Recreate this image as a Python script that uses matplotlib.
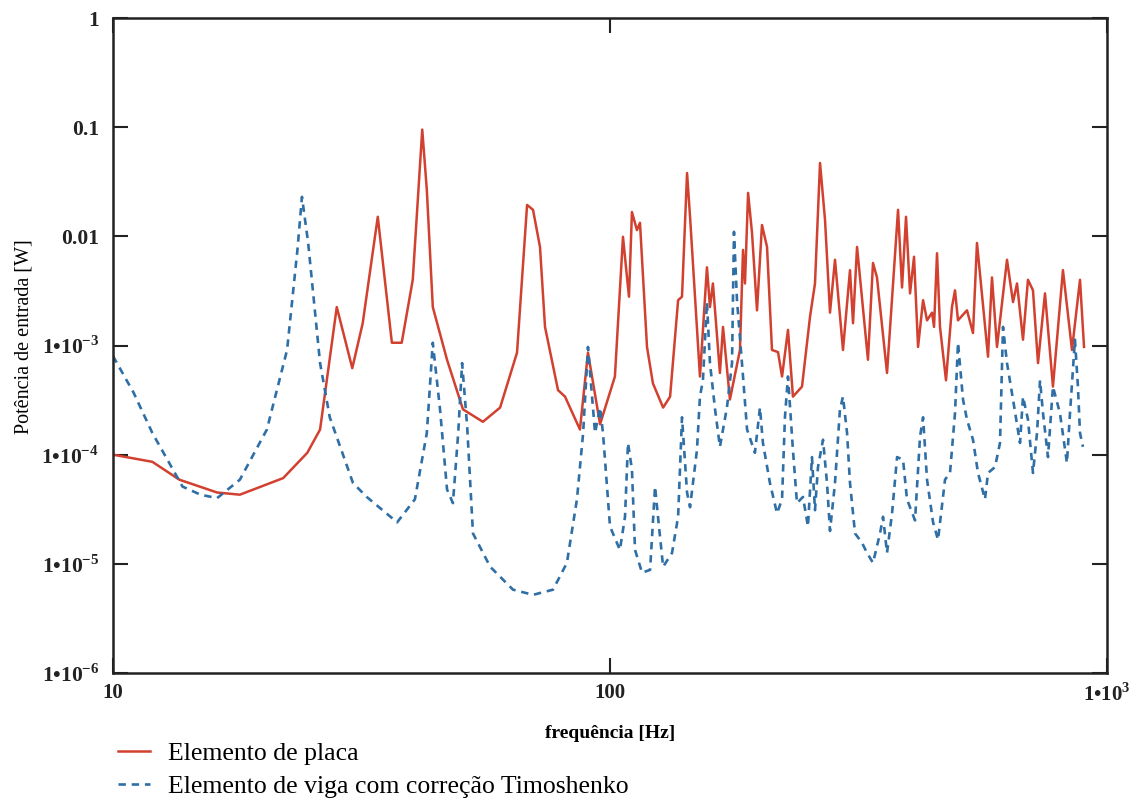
import matplotlib
matplotlib.use("Agg")
import matplotlib.pyplot as plt
from matplotlib.lines import Line2D
from matplotlib.ticker import FixedLocator, FixedFormatter, NullLocator

plt.rcParams['font.family'] = ['Liberation Serif', 'DejaVu Serif']
plt.rcParams['mathtext.fontset'] = 'custom'
plt.rcParams['mathtext.rm'] = 'Liberation Serif:bold'
plt.rcParams['mathtext.bf'] = 'Liberation Serif:bold'

# Plate element model: input power [W] vs frequency [Hz]
placa_freq = [10.0, 12.0, 13.6, 16.2, 18.0, 22.0, 24.6, 26.1, 28.2, 30.3,
              31.8, 34.1, 36.4, 38.1, 40.1, 41.9, 42.8, 44.0, 47.0, 50.6,
              55.5, 60.1, 65.0, 68.1, 70.0, 72.3, 74.0, 78.6, 81.2, 87.0,
              90.3, 95.5, 102.3, 106.2, 108.2, 109.2, 110.7, 113.3, 114.9, 118.7,
              122.0, 127.9, 132.1, 137.1, 139.6, 142.9, 144.9, 151.7, 156.7, 158.9,
              161.1, 166.4, 168.8, 174.3, 182.6, 185.2, 186.9, 189.6, 193.1, 197.6,
              202.2, 207.0, 211.8, 217.8, 221.9, 228.1, 233.4, 243.4, 252.6, 258.5,
              264.6, 270.8, 277.1, 283.6, 294.3, 304.0, 308.3, 314.1, 330.4, 338.2,
              344.5, 360.9, 379.8, 386.9, 394.1, 401.5, 409.0, 416.7, 426.5, 434.4,
              444.6, 448.7, 455.0, 461.3, 474.3, 487.6, 494.5, 501.4, 522.7, 537.5,
              547.5, 576.2, 586.9, 600.7, 629.2, 647.0, 659.1, 677.6, 693.4, 709.7,
              726.4, 750.3, 778.5, 815.4, 850.2, 882.4, 899.0]
placa_pot = [1.0e-4, 8.6e-5, 5.9e-5, 4.5e-5, 4.3e-5, 6.1e-5, 1.04e-4, 1.7e-4, 2.25e-3, 6.2e-4,
             1.6e-3, 1.51e-2, 1.06e-3, 1.06e-3, 4.0e-3, 9.5e-2, 2.66e-2, 2.25e-3, 7.4e-4, 2.6e-4,
             2.0e-4, 2.7e-4, 8.6e-4, 1.94e-2, 1.75e-2, 8.0e-3, 1.48e-3, 3.9e-4, 3.4e-4, 1.7e-4,
             8.6e-4, 1.9e-4, 5.2e-4, 9.9e-3, 4.2e-3, 2.8e-3, 1.67e-2, 1.14e-2, 1.33e-2, 9.7e-4,
             4.5e-4, 2.7e-4, 3.4e-4, 2.6e-3, 2.8e-3, 3.8e-2, 1.51e-2, 5.2e-4, 5.2e-3, 2.25e-3,
             3.7e-3, 5.6e-4, 1.48e-3, 3.2e-4, 9.1e-4, 7.5e-3, 3.7e-3, 2.5e-2, 1.07e-2, 2.1e-3,
             1.27e-2, 8.0e-3, 9.1e-4, 8.7e-4, 5.2e-4, 1.39e-3, 3.4e-4, 4.2e-4, 1.83e-3, 3.7e-3,
             4.7e-2, 1.41e-2, 2.0e-3, 6.1e-3, 9.1e-4, 4.9e-3, 1.6e-3, 8.0e-3, 7.4e-4, 5.7e-3,
             4.2e-3, 5.6e-4, 1.75e-2, 3.4e-3, 1.51e-2, 3.0e-3, 6.5e-3, 9.7e-4, 2.6e-3, 1.7e-3,
             2.0e-3, 1.48e-3, 7.0e-3, 1.48e-3, 4.8e-4, 2.25e-3, 3.2e-3, 1.7e-3, 2.1e-3, 1.3e-3,
             8.7e-3, 7.9e-4, 4.2e-3, 9.7e-4, 6.1e-3, 2.5e-3, 3.7e-3, 1.13e-3, 4.0e-3, 3.2e-3,
             6.9e-4, 3.0e-3, 4.2e-4, 4.9e-3, 9.1e-4, 4.0e-3, 9.7e-4]

# Beam element with Timoshenko correction
viga_freq = [10.0, 11.0, 12.0, 13.8, 15.0, 16.2, 18.0, 20.4, 22.4, 23.5,
             24.0, 24.7, 26.1, 27.3, 30.4, 32.4, 37.3, 40.5, 42.8, 44.0,
             45.5, 47.0, 48.3, 49.5, 50.4, 51.6, 53.0, 57.4, 63.8, 70.0,
             76.8, 81.9, 85.8, 88.3, 90.3, 93.3, 95.5, 96.8, 100.0, 104.7,
             107.2, 108.7, 110.7, 112.3, 116.0, 120.4, 123.2, 124.9, 127.9, 133.3,
             137.1, 139.6, 142.9, 144.9, 149.6, 151.7, 153.8, 156.7, 158.9, 162.7,
             166.4, 171.9, 176.0, 177.6, 180.1, 185.2, 188.7, 195.7, 200.3, 203.1,
             209.8, 216.8, 221.9, 224.9, 228.1, 233.4, 237.8, 244.5, 250.2, 254.9,
             258.5, 262.1, 268.3, 273.3, 277.1, 283.6, 290.2, 294.3, 299.9, 304.0,
             311.2, 321.4, 328.9, 338.2, 349.4, 354.3, 360.9, 369.4, 378.1, 388.7,
             395.9, 410.9, 420.5, 426.5, 434.4, 446.7, 457.1, 472.1, 483.2, 494.5,
             501.4, 513.2, 522.7, 537.5, 550.1, 568.2, 576.2, 595.2, 609.1, 617.7,
             629.2, 647.0, 668.3, 677.6, 693.4, 709.7, 723.1, 733.2, 743.4, 760.8,
             778.5, 804.1, 830.6, 842.4, 862.0, 874.0, 882.4, 894.5]
viga_pot = [8.0e-4, 3.7e-4, 1.58e-4, 5.1e-5, 4.3e-5, 4.0e-5, 5.9e-5, 1.7e-4, 9.1e-4, 7.5e-3,
            2.3e-2, 8.7e-3, 6.9e-4, 2.2e-4, 5.5e-5, 4.1e-5, 2.4e-5, 3.9e-5, 1.58e-4, 1.06e-3,
            2.6e-4, 4.8e-5, 3.6e-5, 1.58e-4, 6.9e-4, 1.8e-4, 1.9e-5, 9.4e-6, 5.8e-6, 5.2e-6,
            5.8e-6, 1.02e-5, 3.9e-5, 1.58e-4, 9.7e-4, 1.58e-4, 2.7e-4, 1.58e-4, 2.2e-5, 1.34e-5,
            2.7e-5, 1.28e-4, 7.3e-5, 1.34e-5, 8.3e-6, 8.8e-6, 5.1e-5, 2.7e-5, 9.4e-6, 1.26e-5,
            2.7e-5, 2.2e-4, 4.5e-5, 3.3e-5, 1.1e-4, 3.4e-4, 4.8e-4, 2.5e-3, 6.9e-4, 2.6e-4,
            1.18e-4, 2.7e-4, 6.9e-4, 1.1e-2, 2.6e-3, 5.2e-4, 1.7e-4, 1.04e-4, 2.7e-4, 1.28e-4,
            5.5e-5, 2.9e-5, 3.9e-5, 2.2e-4, 5.2e-4, 1.1e-4, 3.6e-5, 4.1e-5, 2.2e-5, 9.5e-5,
            3.1e-5, 7.7e-5, 1.37e-4, 5.5e-5, 2.0e-5, 5.5e-5, 2.6e-4, 3.4e-4, 1.58e-4, 5.5e-5,
            1.9e-5, 1.56e-5, 1.26e-5, 1.02e-5, 1.9e-5, 2.7e-5, 1.26e-5, 2.9e-5, 9.5e-5, 9.0e-5,
            3.9e-5, 2.5e-5, 1.46e-4, 2.2e-4, 5.9e-5, 2.4e-5, 1.66e-5, 5.9e-5, 6.8e-5, 2.4e-4,
            1.06e-3, 3.2e-4, 2.1e-4, 1.37e-4, 6.8e-5, 3.9e-5, 6.8e-5, 7.7e-5, 1.28e-4, 1.48e-3,
            6.9e-4, 3.2e-4, 1.28e-4, 3.4e-4, 2.1e-4, 6.8e-5, 1.58e-4, 4.8e-4, 2.4e-4, 9.5e-5,
            4.2e-4, 2.4e-4, 8.4e-5, 2.4e-4, 1.13e-3, 4.2e-4, 1.58e-4, 1.18e-4]

y_ticks = [1, 0.1, 0.01, 1e-3, 1e-4, 1e-5, 1e-6]
y_tick_labels = ['1', '0.1', '0.01', '1•10$^{-3}$', '1•10$^{-4}$', '1•10$^{-5}$', '1•10$^{-6}$']
x_label_pos = [10, 100, 1000]
x_label_text = ['10', '100', '1•10$^{3}$']

legend_labels = ['Elemento de placa', 'Elemento de viga com correção Timoshenko']

red = '#d2402f'
blue = '#2f6fa6'
dash = (0, (2.8, 2.2))

fig = plt.figure(figsize=(11.34, 8.01), dpi=100)
ax = fig.add_axes([113 / 1134, 1 - 673 / 801, (1107 - 113) / 1134, (673 - 18) / 801])

ax.plot(placa_freq, placa_pot, color=red, lw=1.8)
ax.plot(viga_freq, viga_pot, color=blue, lw=1.9, linestyle=dash)

ax.set_xscale('log')
ax.set_yscale('log')
ax.set_xlim(10, 1000)
ax.set_ylim(1e-6, 1)

ax.yaxis.set_major_locator(FixedLocator(y_ticks))
ax.yaxis.set_major_formatter(FixedFormatter(y_tick_labels))
ax.yaxis.set_minor_locator(NullLocator())
ax.xaxis.set_major_locator(FixedLocator(x_label_pos))
ax.xaxis.set_major_formatter(FixedFormatter(x_label_text))
ax.xaxis.set_minor_locator(NullLocator())

ax.tick_params(axis='y', which='major', direction='in', length=11, width=1.5,
               left=True, right=True, labelsize=15.5, pad=10, colors='#222222')
ax.tick_params(axis='x', which='major', direction='in', length=11, width=1.5,
               bottom=True, top=True, labelsize=15, pad=7, colors='#222222')
for lbl in ax.get_yticklabels() + ax.get_xticklabels():
    lbl.set_fontweight('bold')

for sp in ax.spines.values():
    sp.set_linewidth(1.8)
    sp.set_color('#222222')

ax.set_ylabel('Potência de entrada [W]', fontsize=14.5)
ax.yaxis.set_label_coords(-0.08, 0.514)
ax.set_xlabel('frequência [Hz]', fontsize=14, labelpad=14, fontweight='bold')

handles = [Line2D([], [], color=red, lw=1.8),
           Line2D([], [], color=blue, lw=1.9, linestyle=dash)]
fig.legend(handles, legend_labels, loc='upper left', bbox_to_anchor=(0.104, 0.074),
           frameon=False, fontsize=18.5, handlelength=1.25, handletextpad=0.7,
           labelspacing=0.42, borderaxespad=0, borderpad=0)

fig.savefig('out.png', dpi=100)
